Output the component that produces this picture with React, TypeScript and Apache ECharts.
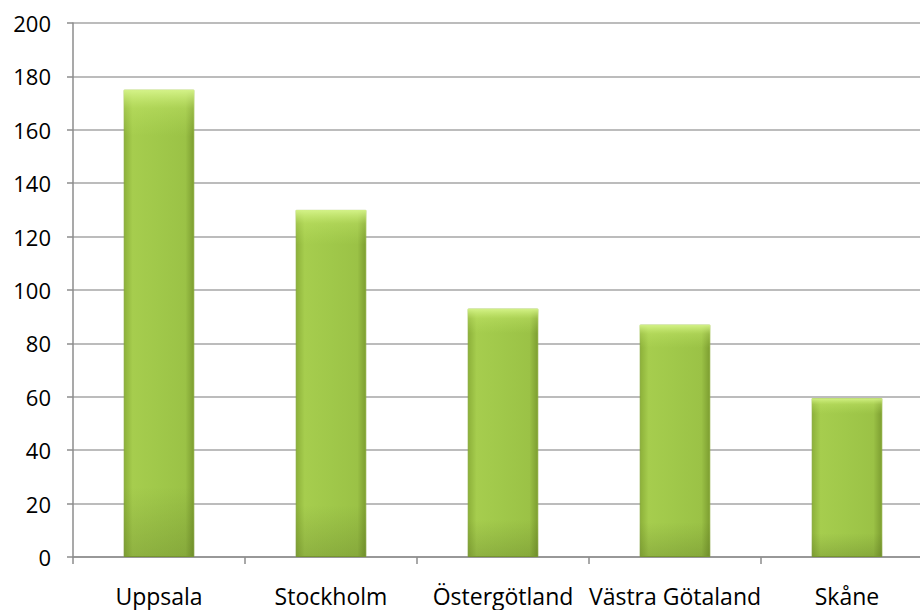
import React, { useEffect, useRef } from "react";
import * as echarts from "echarts";

const categories = ["Uppsala", "Stockholm", "Östergötland", "Västra Götaland", "Skåne"];
const values = [175, 130, 93, 87, 59.5];

export default function App() {
  const ref = useRef<HTMLDivElement>(null);
  useEffect(() => {
    const chart = echarts.init(ref.current!, null, { renderer: "svg" });
    chart.setOption({
      animation: false,
      grid: { left: 73, right: 0, top: 23, bottom: 53, containLabel: false },
      xAxis: {
        type: "category",
        data: categories,
        axisLine: { lineStyle: { color: "#8c8c8c", width: 1.5 } },
        axisTick: { show: true, length: 7, lineStyle: { color: "#8c8c8c", width: 1.5 } },
        axisLabel: { interval: 0, color: "#000", fontFamily: "Open Sans", fontSize: 23, margin: 27 },
      },
      yAxis: {
        type: "value",
        min: 0,
        max: 200,
        interval: 20,
        axisLine: { show: true, lineStyle: { color: "#8c8c8c", width: 1.5 } },
        axisTick: { show: true, length: 6, lineStyle: { color: "#8c8c8c", width: 1.5 } },
        axisLabel: { color: "#000", fontFamily: "Open Sans", fontSize: 22, margin: 22 },
        splitLine: { lineStyle: { color: "#a6a6a6", width: 1.5 } },
      },
      series: [
        {
          type: "bar",
          data: values,
          barWidth: "41%",
          itemStyle: {
            color: new echarts.graphic.LinearGradient(0, 0, 1, 0, [
              { offset: 0, color: "#8db13a" },
              { offset: 0.12, color: "#a6cd4e" },
              { offset: 0.5, color: "#a0c84a" },
              { offset: 0.88, color: "#9bc246" },
              { offset: 1, color: "#7d9e31" },
            ]),
            borderColor: "#86a836",
            borderWidth: 1,
          },
        },
        {
          type: "bar",
          data: values,
          barWidth: "41%",
          barGap: "-100%",
          z: 3,
          itemStyle: {
            color: new echarts.graphic.LinearGradient(0, 0, 0, 1, [
              { offset: 0, color: "rgba(215,245,140,0.95)" },
              { offset: 0.04, color: "rgba(200,235,110,0.35)" },
              { offset: 0.1, color: "rgba(190,230,100,0)" },
              { offset: 0.85, color: "rgba(60,80,20,0)" },
              { offset: 1, color: "rgba(60,80,20,0.22)" },
            ]),
          },
        },
      ],
    });
    return () => chart.dispose();
  }, []);
  return (
    <div style={{ width: 920, height: 610, position: "absolute", left: 0, top: 0, overflow: "hidden" }}>
      <div ref={ref} style={{ width: 933, height: 610 }} />
    </div>
  );
}
